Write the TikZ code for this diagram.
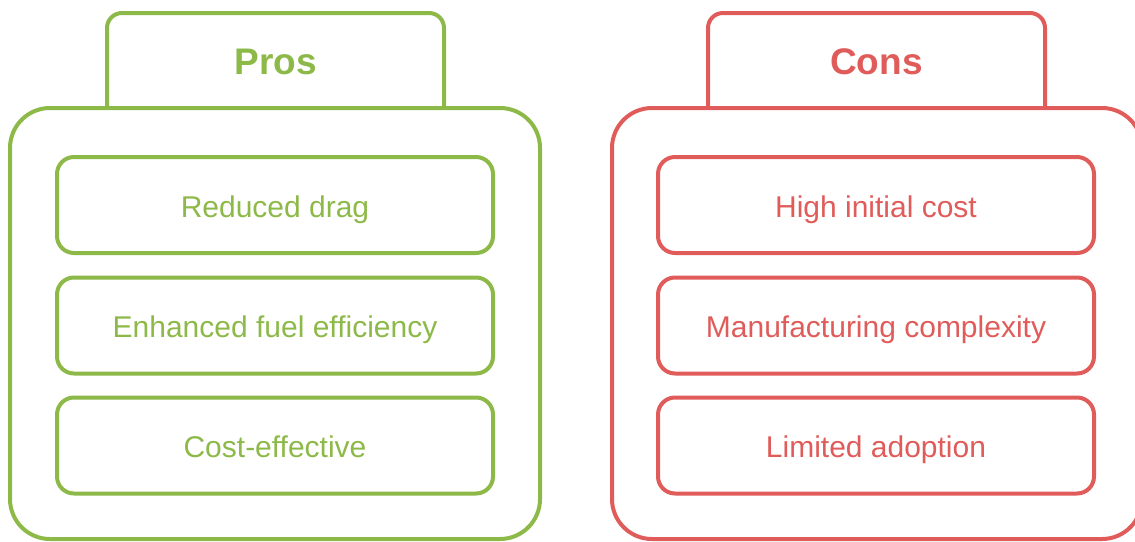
\documentclass[tikz,border=0pt]{standalone}
\usepackage{fontspec}
\setmainfont{Liberation Sans}
\definecolor{proGreen}{RGB}{141,185,72}
\definecolor{conRed}{RGB}{224,92,90}
\begin{document}
\begin{tikzpicture}[x=1pt, y=-1pt,
    panelStyle/.style={rectangle, draw, line width=4pt, rounded corners=40pt, minimum width=530pt, minimum height=431pt},
    itemStyle/.style={rectangle, draw, line width=4pt, rounded corners=17pt, minimum width=436pt, minimum height=96pt, text height=24pt, text depth=0pt, font=\fontsize{30}{36}\selectfont},
    titleStyle/.style={font=\fontsize{37}{44}\selectfont\bfseries},
    tabStyle/.style={line width=4pt, rounded corners=15pt}]
    \useasboundingbox (0,0) rectangle (1135,541);

    % pros panel
    \node[panelStyle, proGreen] (pros_box) at (275, 323.5) {};
    \draw[tabStyle, proGreen] (107,108) -- (107,13) -- (444,13) -- (444,108);
    \node[titleStyle, text=proGreen] (pros_title) at (275.5, 62) {Pros};

    \node[itemStyle, proGreen] (pros_0) at (275, 205) {Reduced drag};
    \node[itemStyle, proGreen] (pros_1) at (275, 325.5) {Enhanced fuel efficiency};
    \node[itemStyle, proGreen] (pros_2) at (275, 445.5) {Cost-effective};

    % cons panel
    \node[panelStyle, conRed] (cons_box) at (877, 323.5) {};
    \draw[tabStyle, conRed] (708,108) -- (708,13) -- (1045,13) -- (1045,108);
    \node[titleStyle, text=conRed] (cons_title) at (876.5, 62) {Cons};

    \node[itemStyle, conRed] (cons_0) at (876, 205) {High initial cost};
    \node[itemStyle, conRed] (cons_1) at (876, 325.5) {Manufacturing complexity};
    \node[itemStyle, conRed] (cons_2) at (876, 445.5) {Limited adoption};
\end{tikzpicture}
\end{document}
